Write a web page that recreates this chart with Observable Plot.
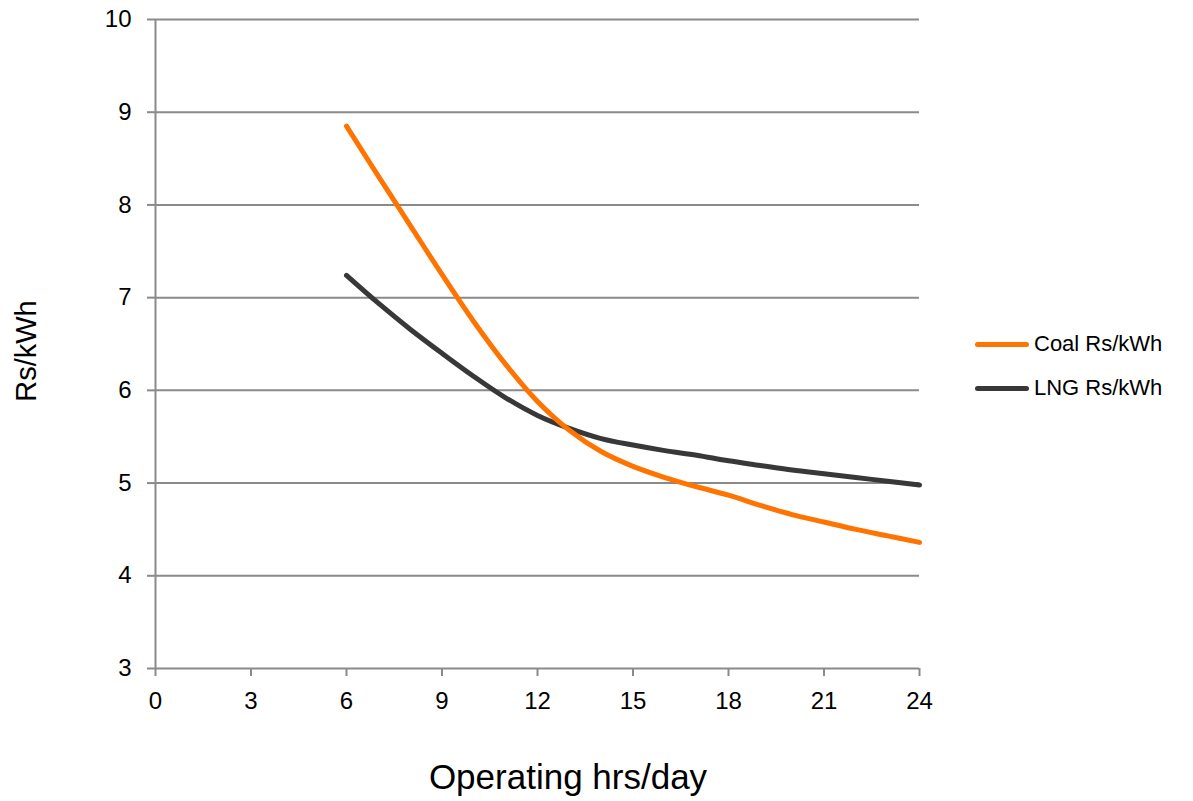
<!DOCTYPE html>
<html>
<head>
<meta charset="utf-8">
<script src="https://cdn.jsdelivr.net/npm/d3@7"></script>
<script src="https://cdn.jsdelivr.net/npm/@observablehq/plot@0.6"></script>
<style>
  html, body { margin: 0; padding: 0; background: #fff; }
  #wrap { position: relative; width: 1193px; height: 801px; font-family: "Liberation Sans", Arial, sans-serif; color: #000; }
  #chart { position: absolute; left: 0; top: 0; }
  #chart svg text { font-size: 24px; }
  .ytitle { position: absolute; left: 26px; top: 351px; transform: translate(-50%, -50%) rotate(-90deg); font-size: 29px; white-space: nowrap; }
  .xtitle { position: absolute; left: 568px; top: 757px; transform: translateX(-50%); font-size: 35px; white-space: nowrap; }
  .legend { position: absolute; left: 975px; top: 322px; font-size: 22px; }
  .legend .item { display: flex; align-items: center; height: 44px; }
  .legend .swatch { width: 54px; height: 5px; border-radius: 3px; margin-right: 5px; }
</style>
</head>
<body>
<div id="wrap">
  <div id="chart"></div>
  <div class="ytitle">Rs/kWh</div>
  <div class="xtitle">Operating hrs/day</div>
  <div class="legend" id="legend"></div>
</div>
<script>
const hours = [6, 7, 8, 9, 10, 11, 12, 13, 14, 15, 16, 17, 18, 19, 20, 21, 22, 23, 24];
const coal  = [8.85, 8.31, 7.78, 7.25, 6.74, 6.28, 5.88, 5.57, 5.34, 5.18, 5.06, 4.96, 4.87, 4.76, 4.66, 4.58, 4.50, 4.43, 4.36];
const lng   = [7.24, 6.94, 6.66, 6.40, 6.15, 5.92, 5.73, 5.59, 5.48, 5.41, 5.35, 5.30, 5.24, 5.19, 5.14, 5.10, 5.06, 5.02, 4.98];
const seriesNames = ["Coal Rs/kWh", "LNG Rs/kWh"];
const seriesColors = ["#ff7300", "#383838"];
const xTicks = [0, 3, 6, 9, 12, 15, 18, 21, 24];
const yTicks = [3, 4, 5, 6, 7, 8, 9, 10];

const coalData = hours.map((h, i) => ({x: h, y: coal[i]}));
const lngData = hours.map((h, i) => ({x: h, y: lng[i]}));

const grid = "#8a8a8a";
const chart = Plot.plot({
  width: 1193,
  height: 801,
  marginLeft: 155,
  marginRight: 274,
  marginTop: 19,
  marginBottom: 133,
  style: {fontFamily: "Liberation Sans, Arial, sans-serif", fontSize: "24px", background: "#fff", color: "#000"},
  x: {domain: [0, 24], label: null},
  y: {domain: [3, 10], label: null},
  marks: [
    Plot.ruleY(yTicks.filter(d => d > 3), {stroke: grid, strokeWidth: 2}),
    Plot.ruleY([3], {stroke: grid, strokeWidth: 2}),
    Plot.ruleX([0], {stroke: grid, strokeWidth: 2}),
    Plot.axisX({ticks: xTicks, tickFormat: d => String(d), tickSize: 8, tickPadding: 15, stroke: grid, strokeWidth: 2, fill: "#000", fontSize: 24, label: null}),
    Plot.axisY({ticks: yTicks, tickFormat: d => String(d), tickSize: 8, tickPadding: 16, stroke: grid, strokeWidth: 2, fill: "#000", fontSize: 24, label: null}),
    Plot.line(lngData, {x: "x", y: "y", stroke: seriesColors[1], strokeWidth: 5, curve: "catmull-rom", strokeLinecap: "round"}),
    Plot.line(coalData, {x: "x", y: "y", stroke: seriesColors[0], strokeWidth: 5, curve: "catmull-rom", strokeLinecap: "round"})
  ]
});
document.getElementById("chart").appendChild(chart);

const legend = document.getElementById("legend");
seriesNames.forEach((name, i) => {
  const item = document.createElement("div");
  item.className = "item";
  const sw = document.createElement("div");
  sw.className = "swatch";
  sw.style.background = seriesColors[i];
  const label = document.createElement("span");
  label.textContent = name;
  item.appendChild(sw);
  item.appendChild(label);
  legend.appendChild(item);
});
</script>
</body>
</html>
